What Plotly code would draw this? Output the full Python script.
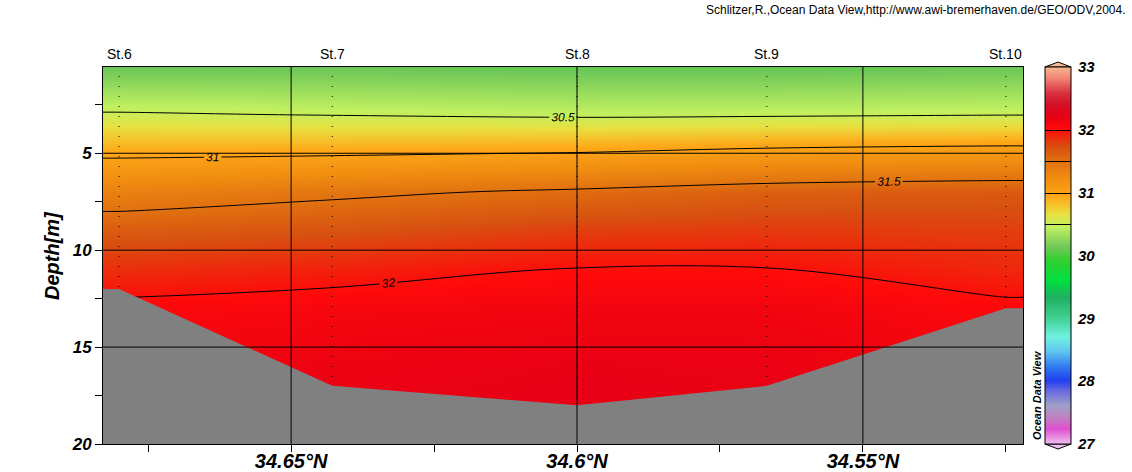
import plotly.graph_objects as go

# ---------------- data ----------------
station_names = ["St.6", "St.7", "St.8", "St.9", "St.10"]
station_lat = [34.6801, 34.6428, 34.6000, 34.5668, 34.5250]
bottom_depth = [12.0, 17.0, 18.0, 17.0, 13.0]

depths = [0.5, 3, 5, 7, 9, 11, 13, 16, 20]
sal_st6 = [30.10, 30.52, 30.95, 31.35, 31.65, 31.87, 32.05, 32.12, 32.15]
sal_st7 = [30.10, 30.49, 30.97, 31.45, 31.70, 31.93, 32.08, 32.16, 32.20]
sal_st8 = [30.08, 30.46, 31.01, 31.54, 31.80, 32.01, 32.12, 32.19, 32.22]
sal_st9 = [30.08, 30.47, 31.08, 31.62, 31.82, 32.01, 32.12, 32.18, 32.20]
sal_st10 = [30.10, 30.49, 31.12, 31.66, 31.80, 31.90, 32.04, 32.10, 32.12]

contour_levels = [30.5, 31.0, 31.5, 32.0]
cbar_ticks = [27, 28, 29, 30, 31, 32, 33]
x_ticks = [34.65, 34.60, 34.55]
x_tick_text = ["34.65°N", "34.6°N", "34.55°N"]
x_minor = [34.675, 34.625, 34.575, 34.525]
y_ticks = [5, 10, 15, 20]
y_minor = [2.5, 7.5, 12.5, 17.5]

credit = "Schlitzer,R.,Ocean Data View,http://www.awi-bremerhaven.de/GEO/ODV,2004."

# ---------------- layout geometry ----------------
W, H = 1132, 472
L, R, T, B = 103, 1023, 67, 444
X_LEFT, X_RIGHT = 34.6829, 34.5220
Y_TOP, Y_BOT = 0.55, 20.0
ZMIN, ZMAX = 27, 33


def px(x):
    return (x - L) / (R - L)


def py(y):
    return (B - y) / (B - T)


odv = [
    (27.00, "#F0C0F0"), (27.24, "#E050D0"), (27.42, "#C080C0"), (27.61, "#A0A0C8"),
    (27.85, "#6868E0"), (28.01, "#2040F0"), (28.22, "#3078F0"), (28.48, "#60C8F0"),
    (28.70, "#70F0E0"), (29.01, "#40D090"), (29.33, "#20B060"), (29.60, "#00E040"),
    (29.92, "#30D030"), (30.13, "#70C858"), (30.45, "#C0F060"), (30.66, "#E8E040"),
    (30.93, "#FFA818"), (31.24, "#F08C10"), (31.51, "#E07010"), (31.72, "#D85010"),
    (32.02, "#FF0A0A"), (32.20, "#E80014"), (32.40, "#D41026"), (32.58, "#D83040"),
    (32.81, "#F08070"), (33.00, "#F8B890"),
]
colorscale = [[(v - ZMIN) / (ZMAX - ZMIN), c] for v, c in odv]

# grid: station columns, padded at the plot edges with the nearest station profile
profiles = [sal_st6, sal_st7, sal_st8, sal_st9, sal_st10]
x_grid = [X_LEFT] + station_lat + [X_RIGHT]
z = []
for i in range(len(depths)):
    row = [p[i] for p in profiles]
    z.append([row[0]] + row + [row[-1]])

bold_it = dict(family="Liberation Sans", weight="bold", style="italic", color="black")

fig = go.Figure()

fig.add_trace(go.Contour(
    x=x_grid, y=depths, z=z,
    zmin=ZMIN, zmax=ZMAX, colorscale=colorscale,
    autocontour=False,
    contours=dict(start=contour_levels[0], end=contour_levels[-1],
                  size=contour_levels[1] - contour_levels[0],
                  coloring="heatmap", showlabels=True,
                  labelfont=dict(family="Liberation Sans", size=12, style="italic", color="black")),
    line=dict(color="black", width=1),
    colorbar=dict(
        x=px(1045), xanchor="left", xpad=0,
        y=0.5, yanchor="middle", len=1, lenmode="fraction", ypad=0,
        thickness=26, outlinewidth=1, outlinecolor="black",
        tickvals=cbar_ticks, ticks="outside", ticklen=4, tickcolor="rgba(0,0,0,0)",
        tickfont=dict(size=15, **bold_it),
    ),
    hoverinfo="skip",
))

# station sample-column dotted lines
sx, sy = [], []
for lat, bd in zip(station_lat, bottom_depth):
    sx += [lat, lat, None]
    sy += [depths[0], bd, None]
fig.add_trace(go.Scatter(x=sx, y=sy, mode="lines",
                         line=dict(color="black", width=1, dash="1px,9px"),
                         hoverinfo="skip", showlegend=False))

# sea floor
bx = [X_LEFT] + station_lat + [X_RIGHT, X_RIGHT, X_LEFT]
by = [bottom_depth[0]] + bottom_depth + [bottom_depth[-1], Y_BOT, Y_BOT]
fig.add_trace(go.Scatter(x=bx, y=by, mode="lines", fill="toself",
                         fillcolor="#808080", line=dict(width=0, color="#808080"),
                         hoverinfo="skip", showlegend=False))

shapes = []
for xv in x_ticks:
    shapes.append(dict(type="line", xref="x", yref="paper", x0=xv, x1=xv, y0=0, y1=1,
                       line=dict(color="black", width=1), layer="above"))
for yv in y_ticks[:-1]:
    shapes.append(dict(type="line", xref="paper", yref="y", x0=0, x1=1, y0=yv, y1=yv,
                       line=dict(color="black", width=1), layer="above"))
# pointed ends of the colour bar
xl, xm, xr = px(1045), px(1058), px(1071)
shapes.append(dict(type="path", xref="paper", yref="paper",
                   path=f"M {xl},{py(67)} L {xm},{py(62)} L {xr},{py(67)} Z",
                   fillcolor="#F8B890", line=dict(color="black", width=1)))
shapes.append(dict(type="path", xref="paper", yref="paper",
                   path=f"M {xl},{py(444)} L {xm},{py(449)} L {xr},{py(444)} Z",
                   fillcolor="#F0C0F0", line=dict(color="black", width=1)))

annotations = []
for name, lat in zip(station_names, station_lat):
    annotations.append(dict(text=name, x=lat, xref="x", y=py(54), yref="paper",
                            xanchor="center", yanchor="middle", showarrow=False,
                            font=dict(family="Liberation Sans", size=14, color="black")))
annotations.append(dict(text=credit, x=px(1128), y=py(10), xref="paper", yref="paper",
                        xanchor="right", yanchor="middle", showarrow=False,
                        font=dict(family="Liberation Sans", size=12, color="black")))
annotations.append(dict(text="Depth[m]", x=px(52), y=py(256), xref="paper", yref="paper",
                        xanchor="center", yanchor="middle", textangle=-90, showarrow=False,
                        font=dict(size=20, **bold_it)))
annotations.append(dict(text="Ocean Data View", x=px(1037), y=py(395), xref="paper", yref="paper",
                        xanchor="center", yanchor="middle", textangle=-90, showarrow=False,
                        font=dict(size=11, **bold_it)))

fig.update_layout(
    width=W, height=H,
    margin=dict(l=L, r=W - R, t=T, b=H - B, pad=0, autoexpand=False),
    paper_bgcolor="white", plot_bgcolor="white",
    showlegend=False,
    shapes=shapes, annotations=annotations,
    xaxis=dict(range=[X_LEFT, X_RIGHT], tickvals=x_ticks, ticktext=x_tick_text,
               ticks="outside", ticklen=7, tickcolor="black", automargin=False,
               ticklabelstandoff=-8,
               minor=dict(tickvals=x_minor, ticks="outside", ticklen=7, tickcolor="black"),
               showgrid=False, zeroline=False, showline=True, mirror=True,
               linecolor="black", linewidth=1, layer="above traces",
               tickfont=dict(size=20, **bold_it)),
    yaxis=dict(range=[Y_BOT, Y_TOP], tickvals=y_ticks,
               ticks="outside", ticklen=7, tickcolor="black", automargin=False,
               minor=dict(tickvals=y_minor, ticks="outside", ticklen=7, tickcolor="black"),
               showgrid=False, zeroline=False, showline=True, mirror=True,
               linecolor="black", linewidth=1, layer="above traces",
               tickfont=dict(size=17, **bold_it)),
)

fig.write_html("out.html")
